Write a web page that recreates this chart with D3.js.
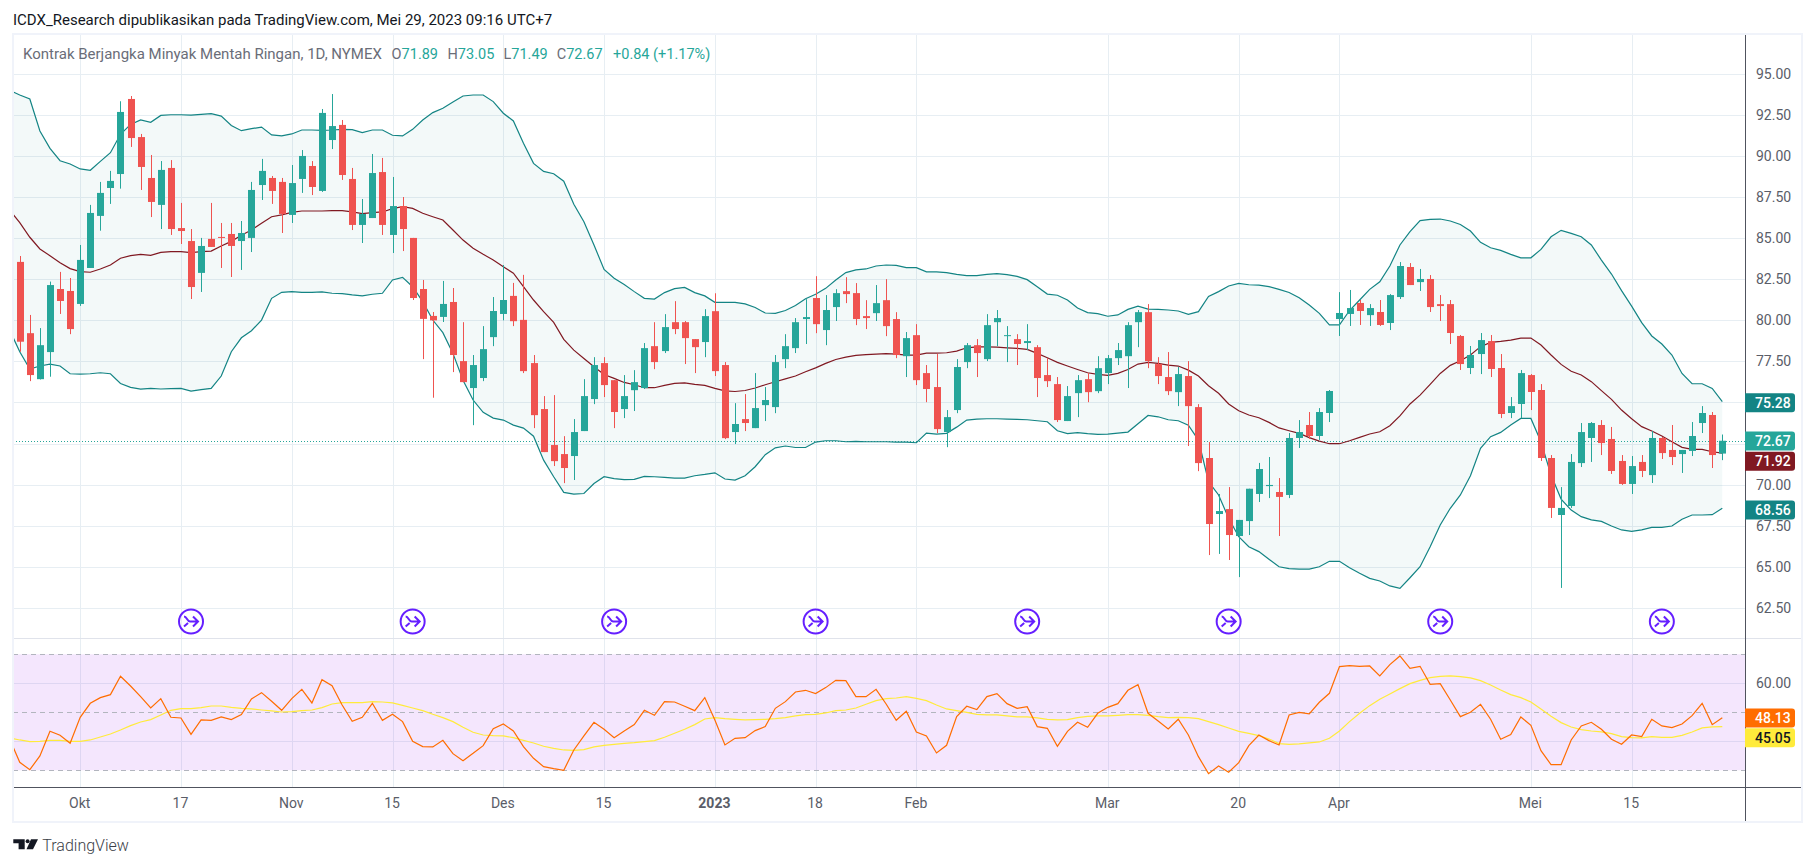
<!DOCTYPE html>
<html>
<head>
<meta charset="utf-8">
<title>Kontrak Berjangka Minyak Mentah Ringan</title>
<script src="https://cdn.jsdelivr.net/npm/d3@7"></script>
<style>
  html, body { margin: 0; background: #fff; }
  svg { display: block; }
  text { font-family: Roboto, sans-serif; }
  .axis path, .axis line { display: none; }
  .axis text { font-size: 14px; fill: #5a5d68; font-family: Roboto, sans-serif; }
</style>
</head>
<body>
<div id="root"></div>
<script>
// candles, oldest first
const opens = [83.56,79.22,76.42,78.07,81.91,81.79,81.0,83.19,86.36,88.06,88.91,93.48,91.16,88.67,87.03,89.28,85.62,84.83,82.89,84.96,85.08,85.26,84.83,85.02,88.24,88.67,88.43,86.42,88.61,89.4,87.88,90.98,91.9,88.61,85.81,86.23,89.03,85.2,86.96,85.02,81.91,80.27,80.21,81.12,77.52,75.88,76.49,78.98,80.39,81.49,80.03,77.4,74.6,72.41,71.86,71.74,73.26,75.21,77.4,76.36,74.6,75.75,75.88,78.43,78.13,79.89,79.89,78.86,78.68,80.56,77.28,73.2,73.99,73.44,74.84,74.72,77.64,78.31,80.08,81.36,79.41,80.81,81.78,81.66,80.26,80.44,81.23,80.08,77.82,79.1,76.79,75.94,73.2,74.54,77.46,78.49,77.64,79.89,79.04,78.86,78.62,78.37,76.67,76.12,73.87,75.57,76.42,75.69,76.79,77.7,77.82,79.89,80.5,77.34,76.55,75.63,76.61,74.72,71.62,68.21,68.51,66.87,67.78,69.43,69.91,69.55,69.37,72.84,73.63,72.96,74.36,80.08,80.39,81.06,80.32,80.51,79.84,81.42,83.25,82.33,82.52,80.99,80.99,79.05,77.1,77.95,78.74,77.1,74.36,74.91,76.67,75.76,71.62,68.15,68.7,71.31,72.84,73.63,72.78,71.44,70.04,71.38,70.58,72.84,72.11,71.86,72.05,73.75,74.24,71.89];
const highs = [83.92,80.33,79.53,82.36,82.95,82.58,84.59,87.03,88.43,89.1,93.34,93.66,91.35,90.07,89.7,89.76,87.15,85.56,85.02,87.15,85.93,85.93,86.05,88.43,89.83,88.79,88.67,89.46,90.37,89.7,92.87,93.78,92.2,89.28,87.39,90.13,89.89,88.73,87.51,85.02,82.46,80.51,82.4,81.97,79.89,77.89,79.65,81.42,83.37,82.28,82.77,77.89,75.39,75.45,72.95,73.99,76.42,77.76,77.76,76.36,76.67,76.97,78.62,79.89,80.38,81.17,79.96,78.86,80.68,81.65,77.46,74.96,75.51,76.79,75.94,77.89,79.16,80.14,81.29,82.69,81.54,81.9,82.63,82.27,81.23,82.15,82.51,80.5,79.29,79.77,77.28,77.95,74.54,77.64,78.62,78.86,80.38,80.63,79.65,79.16,79.77,78.49,77.7,76.55,76.0,76.67,76.79,77.82,77.89,78.62,79.89,80.63,80.99,77.76,78.07,77.16,77.52,74.9,72.59,69.43,69.85,67.85,69.75,71.32,71.68,70.4,73.14,73.93,74.42,74.66,75.76,81.72,81.85,81.24,80.99,81.24,81.6,83.55,83.49,83.13,82.76,81.54,81.24,79.11,78.44,79.23,79.11,77.95,75.33,76.98,76.73,76.12,71.8,69.85,71.86,73.75,73.81,73.93,73.51,71.8,71.74,71.8,73.26,72.9,73.63,72.11,73.81,74.78,74.42,73.05];
const lows = [78.09,76.3,76.4,76.57,80.39,79.16,80.88,83.19,85.46,87.09,88.02,90.56,87.94,86.29,85.56,85.2,84.65,81.3,81.73,84.47,83.19,82.64,83.07,84.16,87.33,87.09,85.32,85.93,87.76,87.63,87.82,90.43,88.55,85.5,84.71,86.23,85.2,84.1,84.22,81.24,77.64,75.29,79.9,76.85,76.24,73.62,76.3,78.43,80.0,79.65,76.79,73.44,71.98,71.13,70.09,70.28,73.26,74.9,75.33,73.44,74.05,74.48,75.82,77.03,78.01,79.16,77.34,76.79,77.76,76.61,72.77,72.47,73.26,73.44,73.87,74.35,77.09,78.01,78.56,79.22,78.49,79.96,81.05,79.71,79.47,79.96,79.04,77.7,76.55,76.06,75.02,73.14,72.28,74.35,77.09,76.55,77.52,78.43,77.46,77.28,78.19,75.33,75.94,73.81,73.87,74.11,75.02,75.57,76.12,77.28,75.88,78.37,77.09,76.12,75.45,74.78,72.35,70.82,65.71,65.78,65.41,64.37,66.93,68.94,69.18,66.87,69.18,72.23,72.78,72.72,73.81,79.05,79.66,79.72,79.66,79.66,79.41,81.3,82.15,81.79,80.51,79.96,78.56,76.98,76.73,76.73,76.55,74.05,74.05,74.05,74.54,71.44,67.97,63.71,68.58,71.07,71.38,71.8,70.65,69.98,69.43,70.46,70.1,71.56,71.19,70.71,71.74,73.14,71.01,71.49];
const closes = [78.7,76.67,78.49,82.15,81.18,79.47,83.68,86.54,87.76,88.49,92.69,91.1,89.34,87.21,89.16,85.56,85.44,82.03,84.53,84.47,85.02,84.53,85.32,87.94,89.1,87.88,86.48,88.36,90.01,88.12,92.63,91.83,88.85,85.81,86.48,88.97,85.81,86.96,85.56,81.36,80.09,80.0,81.0,77.89,76.24,77.28,78.25,80.57,81.24,79.95,76.91,74.23,71.98,71.43,71.01,73.2,75.39,77.28,76.06,74.42,75.39,76.24,78.31,77.46,79.59,79.47,78.92,78.37,80.26,76.91,72.83,73.69,73.75,74.66,75.15,77.46,78.43,79.89,80.2,79.77,80.63,81.66,81.6,80.08,80.14,81.05,79.65,77.89,78.92,76.36,75.82,73.38,74.11,77.16,78.49,78.01,79.71,80.14,79.1,78.56,78.74,76.49,76.3,73.93,75.39,76.36,75.63,77.09,77.7,78.19,79.71,80.5,77.52,76.61,75.69,76.73,74.78,71.31,67.6,68.39,66.93,67.85,69.75,70.95,69.98,69.25,72.84,73.2,72.96,74.42,75.7,80.45,80.75,80.57,80.75,79.72,81.54,83.31,82.15,82.52,80.81,80.87,79.23,77.34,77.89,78.8,77.04,74.3,74.78,76.79,75.64,71.62,68.58,68.58,71.38,73.2,73.75,72.53,70.83,70.04,71.13,70.83,72.84,71.92,71.68,72.11,72.96,74.36,71.8,72.67];

// line series start one bar earlier than the candles (the bar cut off by the left edge)
const bbUpper = [94.0,93.72,93.48,91.53,90.47,89.72,89.52,89.22,89.14,89.68,90.21,91.33,91.93,92.2,92.06,92.48,92.52,92.52,92.5,92.54,92.59,92.44,91.87,91.55,91.67,91.77,91.29,91.23,91.35,91.59,91.59,91.57,91.59,91.63,91.61,91.43,91.59,91.59,91.27,91.23,91.63,92.2,92.65,92.91,93.3,93.66,93.72,93.72,93.32,92.61,92.14,90.78,89.56,89.07,88.93,88.47,87.07,86.01,84.59,83.1,82.56,82.18,81.75,81.34,81.3,81.69,81.93,82.01,81.69,81.49,81.1,81.1,81.1,81.0,80.78,80.45,80.43,80.6,80.9,81.32,81.59,81.95,82.46,82.91,83.07,83.13,83.31,83.37,83.35,83.21,83.21,82.95,82.95,82.91,82.8,82.72,82.72,82.8,82.85,82.78,82.68,82.48,82.05,81.6,81.53,81.24,80.75,80.47,80.41,80.25,80.33,80.67,80.86,80.69,80.67,80.63,80.57,80.37,80.53,81.46,81.75,82.09,82.25,82.17,82.15,82.05,81.89,81.7,81.38,80.93,80.43,79.72,79.72,80.6,81.24,81.89,82.35,83.31,84.59,85.4,86.07,86.15,86.17,86.05,85.84,85.44,84.75,84.42,84.26,84.02,83.81,83.81,84.32,85.09,85.48,85.3,85.09,84.59,83.67,82.82,81.81,80.87,79.86,79.05,78.56,77.89,76.77,76.14,76.14,75.86,75.05];
const bbBasis = [86.72,85.95,85.06,84.35,83.94,83.51,83.15,82.97,82.93,83.13,83.37,83.78,83.94,84.02,83.96,84.14,84.18,84.18,84.12,84.18,84.22,84.53,84.81,85.18,85.5,85.91,86.31,86.42,86.58,86.66,86.66,86.66,86.68,86.68,86.6,86.5,86.56,86.6,86.8,86.92,86.82,86.52,86.31,86.11,85.5,84.89,84.39,84.02,83.68,83.27,82.87,82.05,81.24,80.53,79.88,78.84,78.19,77.68,77.18,76.7,76.47,76.22,76.08,75.9,75.9,76.04,76.16,76.2,76.1,76.04,75.86,75.71,75.67,75.73,75.88,76.08,76.26,76.44,76.61,76.87,77.11,77.38,77.62,77.76,77.87,77.91,77.95,77.97,77.95,77.89,77.89,78.01,78.01,78.03,78.13,78.33,78.39,78.39,78.37,78.33,78.29,78.23,77.99,77.72,77.44,77.22,77.01,76.81,76.71,76.65,76.77,77.01,77.34,77.44,77.38,77.28,77.22,76.97,76.61,76.02,75.56,74.91,74.5,74.24,74.07,73.79,73.45,73.28,73.12,72.86,72.65,72.49,72.49,72.67,72.88,73.08,73.22,73.59,74.18,74.91,75.45,76.1,76.77,77.26,77.54,77.89,78.4,78.66,78.72,78.8,78.92,78.92,78.5,77.89,77.32,76.9,76.67,76.27,75.72,75.19,74.54,74.01,73.53,73.26,72.96,72.61,72.27,72.15,72.15,72.0,71.92];
const bbLower = [79.41,78.09,77.03,77.22,77.34,77.22,76.75,76.73,76.75,76.81,76.75,76.16,75.92,75.82,75.86,75.82,75.84,75.86,75.69,75.78,75.86,76.61,78.09,78.94,79.37,80.02,81.34,81.71,81.75,81.71,81.71,81.73,81.65,81.63,81.55,81.49,81.59,81.65,82.46,82.62,82.05,81.14,80.02,79.25,77.99,76.36,75.15,74.4,74.05,73.93,73.62,73.44,72.95,71.49,70.48,69.53,69.42,69.46,70.07,70.48,70.36,70.3,70.32,70.5,70.48,70.44,70.4,70.4,70.54,70.62,70.72,70.34,70.28,70.54,71.09,71.82,72.24,72.35,72.26,72.26,72.59,72.67,72.67,72.61,72.63,72.61,72.61,72.61,72.59,72.59,72.55,73.14,73.08,73.12,73.5,73.93,73.99,74.01,74.01,73.99,73.97,73.95,73.89,73.83,73.28,73.1,73.16,73.1,73.06,73.08,73.14,73.2,73.71,74.21,74.13,73.95,73.89,73.62,72.71,70.18,69.37,67.95,66.83,66.22,65.92,65.45,65.0,64.88,64.86,64.86,65.0,65.33,65.33,64.94,64.6,64.29,64.13,63.83,63.68,64.33,65.0,66.22,67.54,68.56,69.37,70.54,72.21,72.92,73.18,73.63,74.03,74.03,72.61,70.58,69.12,68.45,68.05,67.85,67.76,67.48,67.24,67.15,67.24,67.4,67.4,67.48,67.89,68.15,68.15,68.17,68.56];
const rsi = [40.7,32.76,30.23,34.94,43.45,42.07,39.31,48.28,53.1,55.06,56.09,62.41,59.08,55.4,51.49,54.71,48.28,48.05,42.41,47.36,47.24,48.39,47.47,49.2,54.6,56.78,53.79,50.69,54.71,57.93,53.22,61.26,59.2,52.53,46.9,48.28,53.1,47.24,49.31,46.78,40.0,38.16,38.05,40.34,35.75,33.33,35.86,38.51,44.37,45.98,43.56,38.16,34.14,31.26,30.57,30.0,37.01,41.84,46.55,44.14,41.26,43.56,45.75,50.69,48.97,53.68,53.56,52.07,50.57,55.06,47.36,38.74,41.03,41.26,43.68,45.06,51.38,53.68,57.01,57.59,56.44,58.51,61.03,60.92,55.4,55.4,57.93,52.87,47.24,50.34,43.22,41.84,35.98,38.62,48.51,52.07,50.92,55.4,56.44,52.99,51.38,51.95,45.06,44.48,38.28,43.45,46.55,44.83,49.66,51.72,52.99,57.59,59.54,49.66,47.01,44.25,47.59,42.18,34.71,28.85,31.49,29.31,32.64,38.51,42.18,40.23,38.74,49.08,50,49.43,53.45,56.55,65.75,66.09,65.86,65.98,62.53,66.44,69.43,65.17,65.86,59.66,59.89,54.25,48.51,50,52.76,47.59,40.69,42.3,48.39,45.52,36.78,31.95,31.95,40.46,45.29,46.55,44.14,40.69,38.97,42.18,41.61,47.59,45.29,44.71,45.98,48.85,53.1,45.75,48.13];
const rsiMa = [41.15,40.46,39.89,40.0,40.34,40.34,40.0,40.0,40.46,41.49,42.53,43.91,45.4,46.67,47.47,49.08,50.69,51.26,51.26,51.61,52.18,52.18,51.72,51.38,51.15,50.8,50.46,50.11,50.23,50.57,50.8,51.61,52.87,53.33,53.33,53.33,53.68,53.56,53.22,52.41,51.49,50.57,49.31,48.16,46.78,44.83,43.1,42.18,41.95,41.84,41.26,40.34,39.43,38.28,37.59,37.01,36.9,37.13,38.05,38.62,38.97,39.31,39.54,39.89,40.23,41.38,42.76,44.14,45.75,47.7,48.16,47.82,47.59,47.36,47.47,47.59,47.82,48.16,48.74,49.2,49.31,49.77,50.57,50.8,51.49,52.76,54.02,54.71,54.94,55.4,54.83,54.02,52.53,51.15,50.57,50,49.31,49.08,49.08,48.74,48.39,48.39,48.05,47.59,47.36,47.47,48.16,48.62,48.74,48.74,48.97,49.2,49.2,48.97,48.51,48.16,48.28,48.16,47.82,46.78,45.75,44.6,43.45,42.76,41.95,40.8,39.2,38.97,39.08,39.43,39.77,41.03,43.56,46.78,49.66,52.3,54.48,56.32,58.16,59.89,61.03,61.95,62.41,62.53,62.3,61.84,60.92,59.43,57.7,56.09,55.06,53.56,51.15,48.62,46.44,44.94,44.02,43.56,43.22,42.64,41.61,41.26,41.15,41.61,41.38,41.38,42.07,43.22,44.6,44.94,45.05];

const priceTicks = [95,92.5,90,87.5,85,82.5,80,77.5,75,72.5,70,67.5,65,62.5];
const rsiGrid = [60,40];
const rsiBands = [70,50,30];
const timeTickBars = [6,16,27,37,48,58,69,79,89,108,121,131,150,160];
const timeTickLabels = ["Okt","17","Nov","15","Des","15","2023","18","Feb","Mar","20","Apr","Mei","15"];
const eventBars = [17,39,59,79,100,120,141,163];
const lastClose = 72.67;

const legendTitle = "Kontrak Berjangka Minyak Mentah Ringan, 1D, NYMEX";
const legendOhlc = [["O","71.89"],["H","73.05"],["L","71.49"],["C","72.67"]];
const legendChange = "+0.84 (+1.17%)";
const publishedLine = "ICDX_Research dipublikasikan pada TradingView.com, Mei 29, 2023 09:16 UTC+7";

const width = 1814;
const height = 866;
const plotLeft = 13;
const plotRight = 1745;
const plotTop = 35;
const paneBottom = 638;
const timeTop = 787;
const frameBottom = 822;
const frameRight = 1802;

const upColor = "#26a69a";
const downColor = "#ef5350";
const bandColor = "#138484";
const basisColor = "#801922";
const gridColor = "#e7eef3";

const x = d3.scaleLinear().domain([6, 169]).range([80.2, 1722.3]);
const y = d3.scaleLinear().domain([95, 62.5]).range([74, 607.8]);
const yRsi = d3.scaleLinear().domain([70, 30]).range([654.3, 770.3]);

const svg = d3.select("#root").append("svg")
  .attr("width", width)
  .attr("height", height)
  .attr("viewBox", `0 0 ${width} ${height}`);

svg.append("clipPath").attr("id", "plot")
  .append("rect")
  .attr("x", plotLeft).attr("y", plotTop)
  .attr("width", plotRight - plotLeft).attr("height", paneBottom - plotTop);
svg.append("clipPath").attr("id", "plot-rsi")
  .append("rect")
  .attr("x", plotLeft).attr("y", paneBottom)
  .attr("width", plotRight - plotLeft).attr("height", timeTop - paneBottom);

// grid
const crisp = (v) => Math.round(v) + 0.5;
const grid = svg.append("g").attr("stroke", gridColor).attr("stroke-width", 1);
grid.selectAll(".v").data(timeTickBars).join("line").attr("class", "v")
  .attr("x1", (d) => crisp(x(d))).attr("x2", (d) => crisp(x(d)))
  .attr("y1", plotTop).attr("y2", timeTop);
grid.selectAll(".h").data(priceTicks).join("line").attr("class", "h")
  .attr("x1", plotLeft).attr("x2", plotRight)
  .attr("y1", (d) => crisp(y(d))).attr("y2", (d) => crisp(y(d)));
grid.selectAll(".r").data(rsiGrid).join("line").attr("class", "r")
  .attr("x1", plotLeft).attr("x2", plotRight)
  .attr("y1", (d) => crisp(yRsi(d))).attr("y2", (d) => crisp(yRsi(d)));

// bollinger
const lineBars = d3.range(-1, 170);
const main = svg.append("g").attr("clip-path", "url(#plot)");
main.append("path")
  .datum(lineBars.map((_, j) => j))
  .attr("fill", bandColor)
  .attr("fill-opacity", 0.05)
  .attr("d", d3.area()
    .x((j) => x(lineBars[j]))
    .y0((j) => y(bbLower[j]))
    .y1((j) => y(bbUpper[j])));

// dotted last price
main.append("line")
  .attr("x1", plotLeft).attr("x2", plotRight)
  .attr("y1", crisp(y(lastClose))).attr("y2", crisp(y(lastClose)))
  .attr("stroke", upColor)
  .attr("stroke-dasharray", "1,2");

const priceLine = (values) => d3.line().x((_, j) => x(lineBars[j])).y((d) => y(d))(values);
[[bbUpper, bandColor], [bbLower, bandColor], [bbBasis, basisColor]].forEach(([values, color]) => {
  main.append("path")
    .attr("d", priceLine(values))
    .attr("fill", "none")
    .attr("stroke", color)
    .attr("stroke-width", 1.2);
});

// candles
const bars = d3.range(opens.length);
const candleColor = (i) => (closes[i] >= opens[i] ? upColor : downColor);
const candles = main.append("g");
candles.selectAll("line").data(bars).join("line")
  .attr("x1", (i) => crisp(x(i))).attr("x2", (i) => crisp(x(i)))
  .attr("y1", (i) => y(highs[i])).attr("y2", (i) => y(lows[i]))
  .attr("stroke", candleColor);
candles.selectAll("rect").data(bars).join("rect")
  .attr("x", (i) => crisp(x(i)) - 3.5)
  .attr("width", 7)
  .attr("y", (i) => y(Math.max(opens[i], closes[i])))
  .attr("height", (i) => Math.max(1, Math.abs(y(opens[i]) - y(closes[i]))))
  .attr("fill", candleColor);

// event markers
const events = svg.append("g").selectAll("g").data(eventBars).join("g")
  .attr("transform", (d) => `translate(${x(d)},621.5)`)
  .attr("fill", "none")
  .attr("stroke", "#651fff")
  .attr("stroke-width", 2);
events.append("circle").attr("r", 12);
events.append("path").attr("d", "M-7,-5 C-4,-5 -4,0 -1,0 L7,0 M2,-5 L7,0 L2,5 M-7,5 L-3,1.5");

// rsi pane
const rsiPane = svg.append("g").attr("clip-path", "url(#plot-rsi)");
rsiPane.append("rect")
  .attr("x", plotLeft).attr("width", plotRight - plotLeft)
  .attr("y", yRsi(70)).attr("height", yRsi(30) - yRsi(70))
  .attr("fill", "#9105eb").attr("fill-opacity", 0.1);
rsiPane.selectAll("line").data(rsiBands).join("line")
  .attr("x1", plotLeft).attr("x2", plotRight)
  .attr("y1", (d) => crisp(yRsi(d))).attr("y2", (d) => crisp(yRsi(d)))
  .attr("stroke", "#b2b5be")
  .attr("stroke-dasharray", "5,4");
const rsiLine = (values) => d3.line().x((_, j) => x(lineBars[j])).y((d) => yRsi(d))(values);
rsiPane.append("path").attr("d", rsiLine(rsiMa))
  .attr("fill", "none").attr("stroke", "#ffeb3b").attr("stroke-width", 1.2);
rsiPane.append("path").attr("d", rsiLine(rsi))
  .attr("fill", "none").attr("stroke", "#ff6d00").attr("stroke-width", 1.2);

// frame and separators
svg.append("line").attr("x1", plotLeft).attr("x2", frameRight)
  .attr("y1", paneBottom + 0.5).attr("y2", paneBottom + 0.5)
  .attr("stroke", "#e0e3eb");
svg.append("line").attr("x1", plotLeft).attr("x2", frameRight)
  .attr("y1", timeTop + 0.5).attr("y2", timeTop + 0.5)
  .attr("stroke", "#50535e");
svg.append("line").attr("x1", plotRight + 0.5).attr("x2", plotRight + 0.5)
  .attr("y1", plotTop).attr("y2", frameBottom)
  .attr("stroke", "#50535e");
svg.append("rect")
  .attr("x", 13).attr("y", 34)
  .attr("width", frameRight - 13).attr("height", frameBottom - 34)
  .attr("fill", "none")
  .attr("stroke", "#f0f3fa")
  .attr("stroke-width", 2);

// axes
svg.append("g").attr("class", "axis")
  .attr("transform", `translate(${plotRight + 8},0)`)
  .call(d3.axisRight(y).tickValues(priceTicks).tickFormat(d3.format(".2f")).tickSize(0));
svg.append("g").attr("class", "axis")
  .attr("transform", `translate(${plotRight + 8},0)`)
  .call(d3.axisRight(yRsi).tickValues([60]).tickFormat(d3.format(".2f")).tickSize(0));
const timeAxis = svg.append("g").attr("class", "axis")
  .attr("transform", `translate(-1,${timeTop + 5})`)
  .call(d3.axisBottom(x).tickValues(timeTickBars)
    .tickFormat((d, i) => timeTickLabels[i]).tickSize(0));
timeAxis.selectAll("text")
  .attr("dy", "0.95em")
  .style("font-weight", (d, i) => (timeTickLabels[i] === "2023" ? 700 : 400));

// price labels on the scale
const scaleLabels = [
  { text: "75.28", cy: 402.7, bg: bandColor, fg: "#fff" },
  { text: "72.67", cy: 441, bg: upColor, fg: "#fff" },
  { text: "71.92", cy: 461.3, bg: basisColor, fg: "#fff" },
  { text: "68.56", cy: 510, bg: bandColor, fg: "#fff" },
  { text: "48.13", cy: 718, bg: "#ff6d00", fg: "#fff" },
  { text: "45.05", cy: 737.7, bg: "#ffeb3b", fg: "#131722" },
];
const labelG = svg.append("g").selectAll("g").data(scaleLabels).join("g")
  .attr("transform", (d) => `translate(${plotRight},${d.cy})`);
labelG.append("path")
  .attr("d", "M0,-9.5 H47 a3,3 0 0 1 3,3 V6.5 a3,3 0 0 1 -3,3 H0 Z")
  .attr("fill", (d) => d.bg);
labelG.append("text")
  .attr("x", 10).attr("dy", "0.35em")
  .attr("font-size", 14)
  .attr("font-weight", 500)
  .attr("fill", (d) => d.fg)
  .text((d) => d.text);

// header + legend
svg.append("text").attr("x", 13).attr("y", 25)
  .attr("font-size", 15).attr("fill", "#131722")
  .text(publishedLine);

svg.append("text").attr("x", 23).attr("y", 59)
  .attr("font-size", 15).attr("fill", "#6a6d78")
  .text(legendTitle);
const ohlcX = [391.6, 447.5, 503.5, 556.7];
legendOhlc.forEach(([name, value], i) => {
  const t = svg.append("text").attr("x", ohlcX[i]).attr("y", 59).attr("font-size", 14.5);
  t.append("tspan").attr("fill", "#6a6d78").text(name);
  t.append("tspan").attr("fill", upColor).text(value);
});
svg.append("text").attr("x", 613).attr("y", 59)
  .attr("font-size", 14.5).attr("fill", upColor)
  .text(legendChange);

// logo
const logo = svg.append("g").attr("fill", "#131722");
logo.append("path").attr("d", "M13.3,839.3 H24.7 V849.3 H18.6 V843.2 H13.3 Z");
logo.append("circle").attr("cx", 27.6).attr("cy", 841.2).attr("r", 2);
logo.append("path").attr("d", "M31,839.3 H38 L33,849.3 H26.5 Z");
svg.append("text").attr("x", 42.3).attr("y", 851)
  .attr("font-size", 16).attr("font-weight", 300).attr("fill", "#3b3e47")
  .text("TradingView");
</script>
</body>
</html>
